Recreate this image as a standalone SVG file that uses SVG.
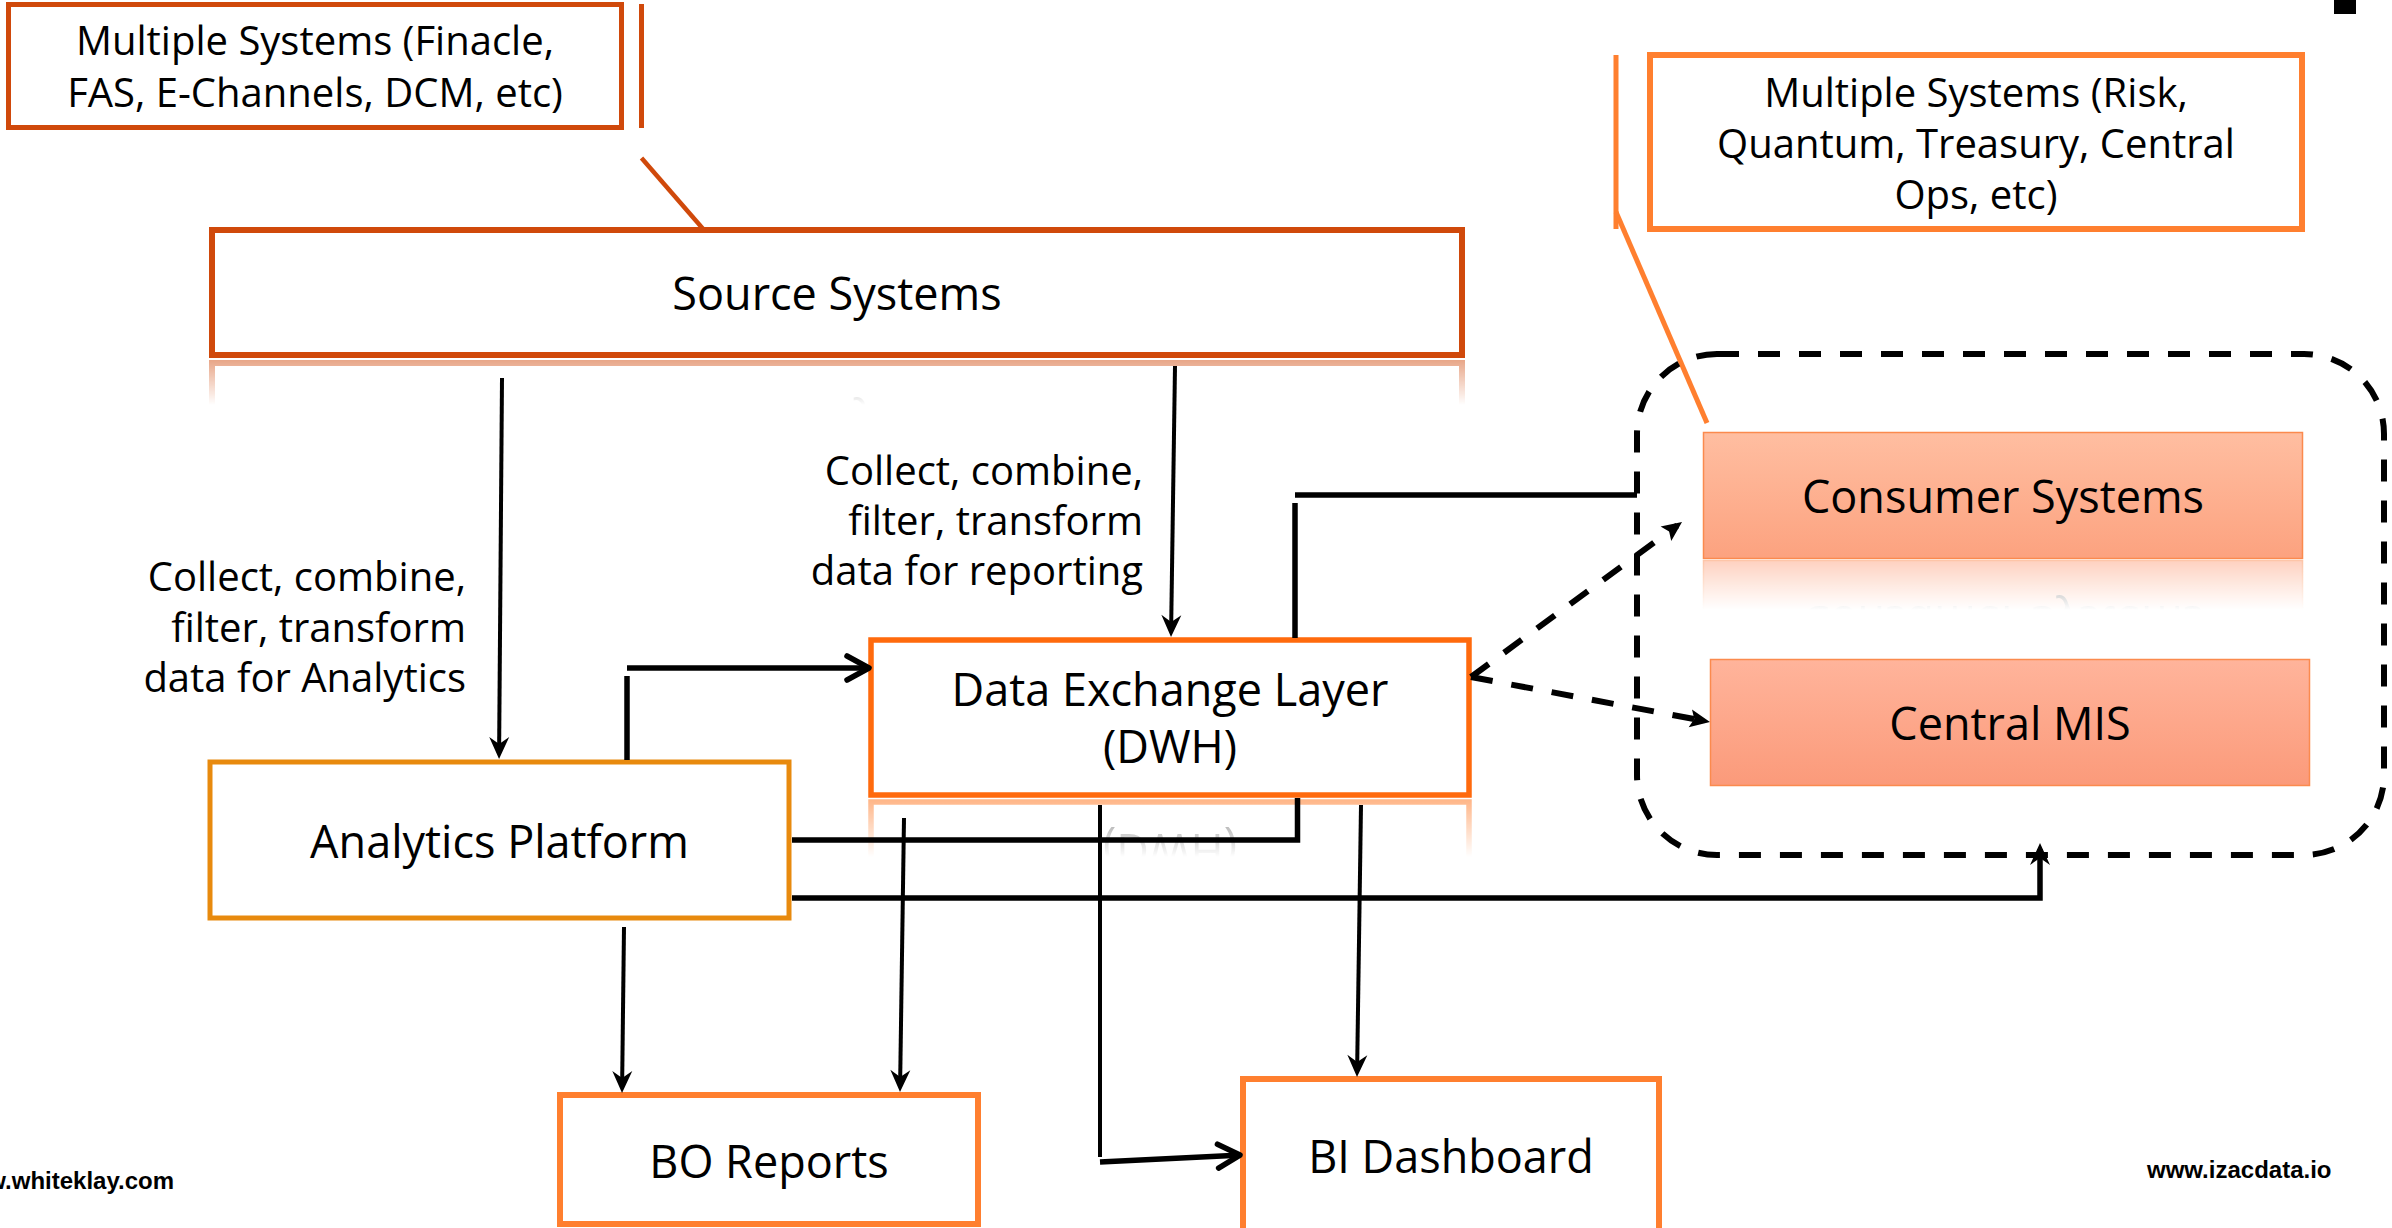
<svg xmlns="http://www.w3.org/2000/svg" xmlns:xlink="http://www.w3.org/1999/xlink" width="2392" height="1228" viewBox="0 0 2392 1228">
  <style>
    .lbl { font-family: "Open Sans", "Noto Sans", sans-serif; fill: #000; text-anchor: middle; }
    .f40 { font-size: 40px; }
    .f45 { font-size: 45px; }
    .note { font-family: "Open Sans", "Noto Sans", sans-serif; font-size: 40px; fill: #000; text-anchor: end; }
    .mark { font-family: "Liberation Sans", Arial, sans-serif; font-weight: bold; font-size: 24px; fill: #000; }
    .box { fill: #fff; }
    .c-src { stroke: #D0490B; }
    .c-ext { stroke: #FF7F2F; }
    .wire { fill: none; stroke: #000; stroke-width: 4; }
    .wire-thick { fill: none; stroke: #000; stroke-width: 5.5; }
    .dash { fill: none; stroke: #000; stroke-width: 6; stroke-dasharray: 22 19; }
  </style>
  <defs>
    <!-- narrow notched arrowhead for the thin vertical flows -->
    <marker id="stealth" markerUnits="userSpaceOnUse" viewBox="-26 -14 30 28" markerWidth="30" markerHeight="28" refX="-6" refY="0" orient="auto" overflow="visible">
      <path d="M0,0 L-22,-10 L-15,0 L-22,10 Z" fill="#000"/>
    </marker>
    <!-- open chevron for the thick horizontal flows -->
    <marker id="open" markerUnits="userSpaceOnUse" viewBox="-26 -16 30 32" markerWidth="30" markerHeight="32" refX="-3" refY="0" orient="auto" overflow="visible">
      <path d="M-22,-12 L0,0 L-22,12" fill="none" stroke="#000" stroke-width="5.5" stroke-linecap="round" stroke-linejoin="round"/>
    </marker>
    <!-- solid head for the dashed distribution links -->
    <marker id="solid" markerUnits="userSpaceOnUse" viewBox="-24 -12 28 24" markerWidth="28" markerHeight="24" refX="-6" refY="0" orient="auto" overflow="visible">
      <path d="M0,0 L-20,-9 L-16,0 L-20,9 Z" fill="#000"/>
    </marker>

    <linearGradient id="gConsumer" x1="0" y1="0" x2="0" y2="1">
      <stop offset="0" stop-color="#FFBEA1"/>
      <stop offset="1" stop-color="#FCA27F"/>
    </linearGradient>
    <linearGradient id="gMis" x1="0" y1="0" x2="0" y2="1">
      <stop offset="0" stop-color="#FFB49B"/>
      <stop offset="1" stop-color="#FB9A7A"/>
    </linearGradient>
    <!-- fading reflection under boxes -->
    <linearGradient id="gFade" x1="0" y1="0" x2="0" y2="1">
      <stop offset="0" stop-color="#fff" stop-opacity="0.5"/>
      <stop offset="1" stop-color="#fff" stop-opacity="0"/>
    </linearGradient>
    <mask id="mSource" maskUnits="userSpaceOnUse" x="0" y="0" width="2392" height="1228">
      <rect x="200" y="359" width="1280" height="46" fill="url(#gFade)"/>
    </mask>
    <mask id="mDwh" maskUnits="userSpaceOnUse" x="0" y="0" width="2392" height="1228">
      <rect x="860" y="799" width="620" height="58" fill="url(#gFade)"/>
    </mask>
    <mask id="mConsumer" maskUnits="userSpaceOnUse" x="0" y="0" width="2392" height="1228">
      <rect x="1700" y="560" width="610" height="50" fill="url(#gFade)"/>
    </mask>
  </defs>

  <rect width="2392" height="1228" fill="#fff"/>

  <!-- reflections -->
  <g mask="url(#mSource)"><use xlink:href="#source-systems" transform="matrix(1,0,0,-1,0,718)"/></g>
  <g mask="url(#mDwh)"><use xlink:href="#dwh" transform="matrix(1,0,0,-1,0,1597)"/></g>
  <g mask="url(#mConsumer)"><use xlink:href="#consumer-systems" transform="matrix(1,0,0,-1,0,1119)"/></g>

  <!-- callout: upstream systems -->
  <g id="callout-upstream">
    <rect class="box c-src" x="8.5" y="4.5" width="613" height="123" stroke-width="5"/>
    <line class="c-src" x1="641.5" y1="4" x2="641.5" y2="128" stroke-width="5"/>
    <line class="c-src" x1="641.5" y1="158" x2="704" y2="230" stroke-width="4.5"/>
    <text class="lbl f40" x="315" y="55">Multiple Systems (Finacle,</text>
    <text class="lbl f40" x="315" y="107">FAS, E-Channels, DCM, etc)</text>
  </g>

  <!-- callout: downstream systems -->
  <g id="callout-downstream">
    <rect class="box c-ext" x="1650" y="55" width="652" height="174" stroke-width="6"/>
    <line class="c-ext" x1="1616" y1="55" x2="1616" y2="229" stroke-width="5"/>
    <line class="c-ext" x1="1616" y1="212" x2="1707" y2="423" stroke-width="5"/>
    <text class="lbl f40" x="1976" y="107">Multiple Systems (Risk,</text>
    <text class="lbl f40" x="1976" y="158">Quantum, Treasury, Central</text>
    <text class="lbl f40" x="1976" y="209">Ops, etc)</text>
  </g>

  <g id="source-systems">
    <rect class="box c-src" x="212" y="230" width="1250" height="125" stroke-width="6"/>
    <text class="lbl f45" x="837" y="310">Source Systems</text>
  </g>

  <g id="analytics-platform">
    <rect class="box" x="210" y="762" width="579" height="156" stroke="#E88A0E" stroke-width="5"/>
    <text class="lbl f45" x="499.5" y="858">Analytics Platform</text>
  </g>

  <g id="dwh">
    <rect class="box" x="871" y="640" width="598" height="155" stroke="#FF6A0D" stroke-width="5.5"/>
    <text class="lbl f45" x="1170" y="706">Data Exchange Layer</text>
    <text class="lbl f45" x="1170" y="763">(DWH)</text>
  </g>

  <g id="consumer-zone">
    <rect class="dash" x="1637" y="354" width="747" height="501" rx="80" ry="80"/>
  </g>

  <g id="consumer-systems">
    <rect x="1703.5" y="432.5" width="599" height="126" fill="url(#gConsumer)" stroke="#FB8A4E" stroke-width="1.5"/>
    <text class="lbl f45" x="2003" y="513">Consumer Systems</text>
  </g>

  <g id="central-mis">
    <rect x="1710.5" y="659.5" width="599" height="126" fill="url(#gMis)" stroke="#FB8A4E" stroke-width="1.5"/>
    <text class="lbl f45" x="2010" y="740">Central MIS</text>
  </g>

  <g id="bo-reports">
    <rect class="box c-ext" x="560" y="1095" width="418" height="129" stroke-width="6"/>
    <text class="lbl f45" x="769" y="1178">BO Reports</text>
  </g>

  <g id="bi-dashboard">
    <rect class="box c-ext" x="1243" y="1079" width="416" height="170" stroke-width="6"/>
    <text class="lbl f45" x="1451" y="1173">BI Dashboard</text>
  </g>

  <!-- flow annotations -->
  <g id="notes">
    <text class="note" x="466" y="591">Collect, combine,</text>
    <text class="note" x="466" y="642">filter, transform</text>
    <text class="note" x="466" y="692">data for Analytics</text>
    <text class="note" x="1143" y="485">Collect, combine,</text>
    <text class="note" x="1143" y="535">filter, transform</text>
    <text class="note" x="1143" y="585">data for reporting</text>
  </g>

  <g id="connectors">
    <!-- source feeds -->
    <path class="wire" d="M502,378 L499.1,753" marker-end="url(#stealth)"/>
    <path class="wire" d="M1175,366 L1171.1,631" marker-end="url(#stealth)"/>
    <!-- analytics to exchange layer -->
    <path class="wire-thick" d="M627,760 L627,676"/>
    <path class="wire-thick" d="M627,668 L866,668" marker-end="url(#open)"/>
    <!-- exchange layer to consumer systems -->
    <path class="wire-thick" d="M1295,638 L1295,503"/>
    <path class="wire-thick" d="M1295,495 L1637,495"/>
    <!-- analytics back into exchange layer -->
    <path class="wire-thick" d="M792,840 L1297.5,840 L1297.5,798"/>
    <!-- analytics to central MIS -->
    <path class="wire-thick" d="M792,898 L2040,898 L2040,849" marker-end="url(#stealth)"/>
    <!-- report outputs -->
    <path class="wire" d="M624,927 L622.1,1087" marker-end="url(#stealth)"/>
    <path class="wire" d="M904,818 L900.1,1086" marker-end="url(#stealth)"/>
    <path class="wire" d="M1361,805 L1357.1,1071" marker-end="url(#stealth)"/>
    <path class="wire" d="M1100,805 L1100,1157"/>
    <path class="wire-thick" d="M1100,1162 L1237,1155.2" marker-end="url(#open)"/>
    <!-- distribution links -->
    <path class="dash" d="M1471,677 L1677.2,525.5" marker-end="url(#solid)"/>
    <path class="dash" d="M1471,677 L1704.1,720.9" marker-end="url(#solid)"/>
  </g>

  <g id="footer">
    <text class="mark" x="174" y="1189" text-anchor="end">www.whiteklay.com</text>
    <text class="mark" x="2147" y="1178">www.izacdata.io</text>
    <rect x="2334" y="0" width="22" height="14" fill="#000"/>
  </g>
</svg>
